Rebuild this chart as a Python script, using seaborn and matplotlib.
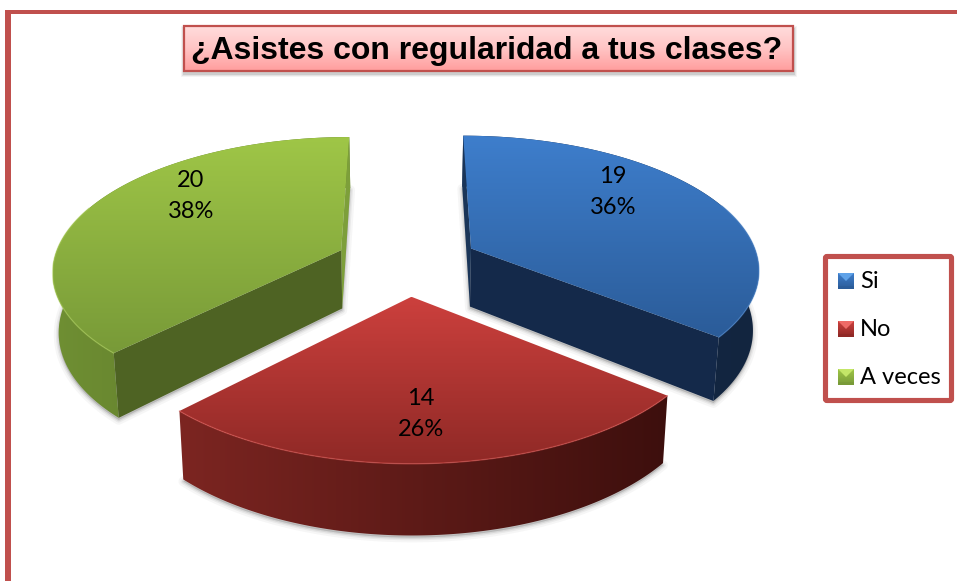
import numpy as np
import matplotlib
matplotlib.use("Agg")
import matplotlib.pyplot as plt
import seaborn as sns
from matplotlib.patches import Polygon, Rectangle, FancyBboxPatch

# ---- data ----
categories = ["Si", "No", "A veces"]
counts = [19, 14, 20]
percent_labels = ["36%", "26%", "38%"]
title_text = "¿Asistes con regularidad a tus clases?"

# ---- style ----
top_colors = [["#3e7ecc", "#2b5c99"], ["#cc403d", "#8f2926"], ["#9fc647", "#789a38"]]
rim_colors = [["#15294a", "#12253f"], ["#7c2521", "#3d0f0d"], ["#6f8f33", "#567026"]]
cut_colors = ["#14294a", "#3a0f0d", "#4e6323"]
end_colors = ["#1a3558", "#3a0f0d", "#7d9f3a"]
edge_light = ["#4a86cf", "#d9524e", "#a8cc55"]
frame_color = "#c0504d"

sns.set_theme(style="white")
plt.rcParams["font.family"] = ["Lato", "DejaVu Sans"]

W, H = 957, 581
fig = plt.figure(figsize=(W / 100, H / 100), dpi=100)
ax = fig.add_axes([0, 0, 1, 1])
ax.set_xlim(0, W)
ax.set_ylim(H, 0)
ax.axis("off")

# ---- perspective disc model ----
CX, CY, A, B, K, EXPL, THICK, SHRINK = 407, 262.5, 288, 132.5, 0.142, 0.25, 59, 0.983


def project(u, v, bottom=False):
    w = 1 + K * v
    x = A * u / w
    y = CY - B * v / w
    if bottom:
        return CX + x * SHRINK, y + THICK / w
    return CX + x, y


def grad_fill(poly, colors, horizontal=False, z=2):
    patch = Polygon(poly, closed=True, fc="none", ec="none", zorder=z)
    ax.add_patch(patch)
    xs, ys = poly[:, 0], poly[:, 1]
    ramp = np.array(sns.blend_palette(colors, 128))[:, :3]
    img = ramp[None, :, :] if horizontal else ramp[:, None, :]
    im = ax.imshow(img, extent=(xs.min(), xs.max(), ys.max(), ys.min()),
                   aspect="auto", interpolation="bilinear", zorder=z)
    im.set_clip_path(patch)


def pts(x, y):
    return np.column_stack([x, y])


total = sum(counts)
fracs = np.array(counts) / total
starts = np.concatenate([[0], np.cumsum(fracs)[:-1]]) * 2 * np.pi
ends = np.cumsum(fracs) * 2 * np.pi

for i in [0, 2, 1]:
    a0, a1 = starts[i], ends[i]
    mid = (a0 + a1) / 2
    ox, oy = EXPL * np.sin(mid), EXPL * np.cos(mid)
    th = np.linspace(a0, a1, 160)
    u, v = ox + np.sin(th), oy + np.cos(th)
    arc_t = pts(*project(u, v))
    arc_b = pts(*project(u, v, bottom=True))
    at = np.array(project(ox, oy))
    ab = np.array(project(ox, oy, bottom=True))

    # soft shadow below the solid
    outline = np.vstack([ab, arc_b])
    for lw, alpha in [(7, 0.05), (4, 0.08), (2, 0.12)]:
        ax.add_patch(Polygon(outline + [0, 2], closed=True, fc="#555555", ec="#555555",
                             lw=lw, alpha=alpha, zorder=1.5, joinstyle="round"))

    # side faces
    grad_fill(np.vstack([arc_t, arc_b[::-1]]), rim_colors[i], horizontal=True, z=2)
    if i == 0:
        ax.add_patch(Polygon(np.array([at, arc_t[0], arc_b[0], ab]), closed=True,
                             fc=end_colors[i], ec="none", zorder=2.1))
        ax.add_patch(Polygon(np.array([at, arc_t[-1], arc_b[-1], ab]), closed=True,
                             fc=cut_colors[i], ec="none", zorder=2.2))
    if i == 2:
        ax.add_patch(Polygon(np.array([at, arc_t[-1], arc_b[-1], ab]), closed=True,
                             fc=end_colors[i], ec="none", zorder=2.1))
        ax.add_patch(Polygon(np.array([at, arc_t[0], arc_b[0], ab]), closed=True,
                             fc=cut_colors[i], ec="none", zorder=2.2))

    # top surface
    grad_fill(np.vstack([at, arc_t]), top_colors[i], z=3)
    front = np.cos(th) < 0.35
    ax.plot(arc_t[front, 0], arc_t[front, 1], color=edge_light[i], lw=1.0, alpha=0.55, zorder=3.1)

# value labels
label_xy = [(613, 192), (421, 414), (191, 196)]
for (lx, ly), c, p in zip(label_xy, counts, percent_labels):
    ax.text(lx, ly, f"{c}\n{p}", ha="center", va="center", fontsize=17,
            color="black", linespacing=1.55, zorder=5)

# outer frame
ax.add_patch(Rectangle((5, 10), W, 4, fc=frame_color, ec="none", zorder=6))
ax.add_patch(Rectangle((5, 10), 6, H, fc=frame_color, ec="none", zorder=6))

# title box
for grow, alpha in [(6, 0.06), (4, 0.09), (2, 0.14)]:
    ax.add_patch(Rectangle((184 - grow / 2, 29 - grow / 2), 610 + grow, 45 + grow,
                           fc="#444444", ec="none", alpha=alpha, zorder=6))
tb = np.array([[184, 26], [793, 26], [793, 71], [184, 71]], dtype=float)
grad_fill(tb, ["#ffdcdc", "#ffc4c4", "#ff9d9d"], z=7)
ax.add_patch(Rectangle((184, 26), 609, 45, fc="none", ec=frame_color, lw=1.6, zorder=8))
ax.text(487, 51, title_text, ha="center", va="center", fontsize=23, fontweight="bold",
        family="Liberation Sans", color="black", zorder=9)

# legend
ax.add_patch(FancyBboxPatch((825.5, 256.5), 126, 144,
                            boxstyle="round,pad=0,rounding_size=1.5",
                            fc="white", ec=frame_color, lw=3.7, zorder=6))
legend_y = [281, 329, 377]
swatch_light = ["#5fa2e8", "#ee6a66", "#c4e668"]
for name, ly, tc, sl in zip(categories, legend_y, top_colors, swatch_light):
    s = 8
    sq = np.array([[838, ly - s], [854, ly - s], [854, ly + s], [838, ly + s]], dtype=float)
    grad_fill(sq, [tc[0], tc[1]], z=7)
    ax.add_patch(Polygon(np.array([[838, ly - s], [854, ly - s], [846, ly]]), closed=True,
                         fc=sl, ec="none", zorder=7.1))
    ax.add_patch(Rectangle((838, ly + s - 3), 16, 3, fc=tc[1], ec="none", alpha=0.75, zorder=7.1))
    ax.text(860, ly, name, ha="left", va="center", fontsize=17, color="black", zorder=8)

ax.set_xlim(0, W)
ax.set_ylim(H, 0)
fig.savefig("out.png", dpi=100, facecolor="white")
